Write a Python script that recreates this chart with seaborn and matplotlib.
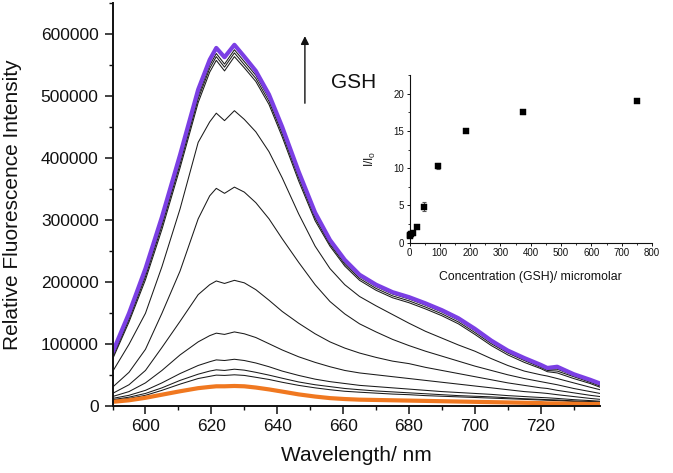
import numpy as np
import pandas as pd
import matplotlib
matplotlib.use("Agg")
import matplotlib.pyplot as plt
from matplotlib.ticker import MultipleLocator
import seaborn as sns

# ---------------- data ----------------
wavelength = [590, 595, 600, 605, 610.5, 616, 619.5, 621.5, 624, 627, 630, 633.5, 637.5, 641.5,
              646.5, 651.5, 656, 660.5, 665, 670, 675, 680, 685, 690, 695, 700, 705, 710, 715,
              720, 722, 725, 730, 735, 738]

curve_purple = [87000, 150000, 222000, 305000, 405000, 510000, 558000, 577000, 562000, 582000,
                563000, 540000, 502000, 450000, 378000, 312000, 268000, 236000, 212000, 196000,
                184000, 176000, 166000, 155000, 142000, 125000, 106000, 90000, 78000, 67000,
                62000, 64000, 52000, 43000, 37000]
curve_b1 = [82000, 144000, 214000, 296000, 396000, 500000, 549000, 568000, 551000, 574000,
            555000, 533000, 496000, 444000, 372000, 307000, 264000, 232000, 209000, 193000,
            181000, 173000, 163000, 152000, 139000, 122000, 104000, 88000, 76000, 65000,
            60000, 60000, 50000, 41000, 35000]
curve_b2 = [79000, 140000, 209000, 291000, 390000, 495000, 544000, 563000, 546000, 569000,
            550000, 528000, 491000, 439000, 368000, 303000, 261000, 229000, 206000, 190000,
            178000, 170000, 160000, 149000, 136000, 119000, 101000, 86000, 74000, 63000,
            58000, 57000, 48000, 39000, 33000]
curve_b3 = [76000, 136000, 204000, 285000, 384000, 489000, 538000, 557000, 540000, 563000,
            545000, 523000, 486000, 434000, 363000, 299000, 258000, 226000, 203000, 187000,
            175000, 167000, 157000, 146000, 133000, 116000, 98000, 83000, 71000, 61000,
            56000, 54000, 45000, 37000, 31000]
curve_b4 = [56000, 100000, 150000, 225000, 318000, 425000, 458000, 472000, 460000, 476000,
            462000, 442000, 410000, 368000, 310000, 258000, 222000, 196000, 177000, 162000,
            148000, 134000, 121000, 110000, 99000, 89000, 77000, 66000, 57000, 51000,
            49000, 45000, 38000, 31000, 27000]
curve_b5 = [31000, 55000, 92000, 150000, 218000, 302000, 339000, 351000, 343000, 353000,
            345000, 328000, 302000, 270000, 232000, 196000, 169000, 149000, 133000, 120000,
            108000, 98000, 89000, 81000, 73000, 65000, 58000, 51000, 45000, 40000,
            38000, 35000, 29000, 24000, 21000]
curve_b6 = [21000, 35000, 58000, 95000, 137000, 180000, 196000, 202000, 198000, 203000,
            199000, 188000, 171000, 153000, 134000, 117000, 104000, 94000, 86000, 79000,
            73000, 69000, 63000, 58000, 53000, 48000, 43000, 38000, 34000, 30000,
            29000, 26000, 22000, 18000, 16000]
curve_b7 = [16000, 24000, 38000, 58000, 83000, 104000, 114000, 118000, 116000, 120000,
            117000, 111000, 101000, 91000, 80000, 71000, 64000, 58000, 54000, 51000,
            48000, 45000, 42000, 39000, 36000, 33000, 30000, 27000, 24000, 22000,
            21000, 19000, 16000, 13000, 11500]
curve_b8 = [13000, 18000, 26000, 38000, 53000, 66000, 72000, 75000, 74000, 76000,
            74000, 70000, 64000, 57000, 50000, 44000, 40000, 37000, 34000, 32000,
            30000, 28000, 26000, 24000, 22500, 21000, 19500, 17500, 16000, 14500,
            14000, 13000, 11000, 9500, 8500]
curve_b9 = [11000, 15000, 21000, 30000, 42000, 52000, 57000, 59000, 58000, 60000,
            58500, 55000, 50500, 45500, 39500, 35000, 32000, 29000, 27000, 25000,
            23500, 22000, 20500, 19000, 17500, 16500, 15500, 14000, 12500, 11500,
            11000, 10500, 9000, 8000, 7500]
curve_b10 = [10000, 13000, 18000, 26000, 36000, 45000, 48500, 50500, 50000, 51000,
             50000, 47000, 43500, 39000, 34000, 30000, 27000, 24500, 23000, 21500,
             20000, 19000, 17500, 16500, 15500, 14500, 13500, 12500, 11500, 10500,
             10000, 9500, 8000, 7000, 6500]
curve_orange = [7500, 10000, 14000, 19000, 24500, 29500, 31500, 32500, 32500, 33000,
                32500, 30500, 27500, 24000, 19500, 16000, 13500, 12000, 11000, 10500,
                10000, 9500, 9000, 8500, 8000, 7500, 7000, 6500, 6000, 5500,
                5000, 5000, 4500, 4000, 4000]

black_curves = [curve_b1, curve_b2, curve_b3, curve_b4, curve_b5, curve_b6,
                curve_b7, curve_b8, curve_b9, curve_b10]

conc = [0, 3, 6, 12, 23.4, 46.9, 93.75, 187.5, 375, 750]
ratio = [0.85, 1.0, 1.1, 1.3, 2.1, 4.8, 10.3, 15.0, 17.5, 19.0]
ratio_err = [0.1, 0.1, 0.1, 0.1, 0.15, 0.6, 0.35, 0.2, 0.2, 0.15]

# ---------------- style ----------------
sns.set_style("ticks")
plt.rcParams['font.family'] = ['Liberation Sans', 'DejaVu Sans']
plt.rcParams['mathtext.fontset'] = 'custom'
plt.rcParams['mathtext.rm'] = 'Liberation Sans'
plt.rcParams['mathtext.it'] = 'Liberation Sans'

fig = plt.figure(figsize=(6.73, 4.73), dpi=100)
ax = fig.add_axes([0.1672, 0.1406, 0.7244, 0.854])

for c in black_curves:
    df = pd.DataFrame({"wl": wavelength, "I": c})
    sns.lineplot(data=df, x="wl", y="I", ax=ax, color="#1a1a1a", lw=0.75,
                 estimator=None, sort=False)
df = pd.DataFrame({"wl": wavelength, "I": curve_orange})
sns.lineplot(data=df, x="wl", y="I", ax=ax, color="#f07820", lw=3.0,
             estimator=None, sort=False)
df = pd.DataFrame({"wl": wavelength, "I": curve_purple})
sns.lineplot(data=df, x="wl", y="I", ax=ax, color="#7b3fe4", lw=3.0,
             estimator=None, sort=False)

ax.set_xlim(590, 738)
ax.set_ylim(0, 650000)
ax.xaxis.set_major_locator(MultipleLocator(20))
ax.xaxis.set_minor_locator(MultipleLocator(10))
ax.yaxis.set_major_locator(MultipleLocator(100000))
ax.yaxis.set_minor_locator(MultipleLocator(50000))
ax.set_yticks([0, 100000, 200000, 300000, 400000, 500000, 600000])
ax.set_yticklabels(["0", "100000", "200000", "300000", "400000", "500000", "600000"])
for side in ["top", "right"]:
    ax.spines[side].set_visible(False)
for side in ["left", "bottom"]:
    ax.spines[side].set_linewidth(1.4)
    ax.spines[side].set_color("#111111")
ax.tick_params(axis="both", which="major", direction="out", length=5.5, width=1.1,
               labelsize=12.5, colors="#111111")
ax.tick_params(axis="x", which="major", pad=3.5)
ax.tick_params(axis="y", which="major", pad=4.5)
ax.tick_params(axis="both", which="minor", direction="out", length=3, width=1.0,
               colors="#111111")

ax.set_xlabel("Wavelength/ nm", fontsize=15, color="#111111")
ax.set_ylabel("Relative Fluorescence Intensity", fontsize=15, color="#111111")
ax.xaxis.label.set_va("center")
ax.yaxis.label.set_va("center")
ax.xaxis.set_label_coords(0.5, -0.1225)
ax.yaxis.set_label_coords(-0.206, 0.5)

# arrow and GSH label
ax.annotate("", xy=(648.4, 596000), xytext=(648.4, 488000),
            arrowprops=dict(arrowstyle="-|>", color="#111111", lw=1.0,
                            mutation_scale=12, shrinkA=0, shrinkB=0))
ax.text(656.3, 521000, "GSH", fontsize=15, ha="left", va="center", color="#111111")

# ---------------- inset ----------------
axi = fig.add_axes([0.6085, 0.4869, 0.3603, 0.3546])
axi.patch.set_alpha(0)
axi.errorbar(conc, ratio, yerr=ratio_err, fmt="none", ecolor="#555555",
             elinewidth=0.8, capsize=1.5, capthick=0.8, zorder=2)
sns.scatterplot(x=conc, y=ratio, ax=axi, marker="s", s=14, color="#000000",
                edgecolor="#000000", linewidth=0.3, zorder=3, clip_on=False)
axi.set_xlim(0, 800)
axi.set_ylim(0, 22.5)
axi.xaxis.set_major_locator(MultipleLocator(100))
axi.xaxis.set_minor_locator(MultipleLocator(50))
axi.yaxis.set_major_locator(MultipleLocator(5))
axi.yaxis.set_minor_locator(MultipleLocator(2.5))
for side in ["top", "right"]:
    axi.spines[side].set_visible(False)
for side in ["left", "bottom"]:
    axi.spines[side].set_linewidth(0.8)
    axi.spines[side].set_color("#111111")
axi.tick_params(axis="both", which="major", direction="out", length=2.5, width=0.7,
                labelsize=7, pad=1.5, colors="#111111")
axi.tick_params(axis="both", which="minor", direction="out", length=1.5, width=0.6,
                colors="#111111")
axi.set_xlabel("Concentration (GSH)/ micromolar", fontsize=8.8, color="#111111")
axi.set_ylabel("I/I$_0$", fontsize=8.5, color="#111111")
axi.xaxis.label.set_va("center")
axi.yaxis.label.set_va("center")
axi.xaxis.set_label_coords(0.5, -0.2045)
axi.yaxis.set_label_coords(-0.162, 0.5)

fig.savefig("out.png", dpi=100)
